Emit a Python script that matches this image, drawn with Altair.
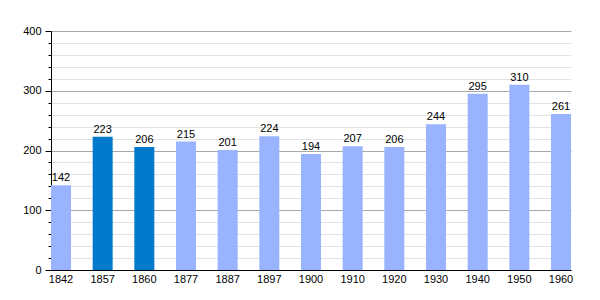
import altair as alt
import pandas as pd

years = ["1842", "1857", "1860", "1877", "1887", "1897", "1900", "1910", "1920", "1930", "1940", "1950", "1960"]
values = [142, 223, 206, 215, 201, 224, 194, 207, 206, 244, 295, 310, 261]
groups = ["a", "b", "b", "a", "a", "a", "a", "a", "a", "a", "a", "a", "a"]

df = pd.DataFrame({"year": years, "value": values, "grp": groups})

x = alt.X("year:N", sort=None, title=None,
          scale=alt.Scale(paddingInner=0.52, paddingOuter=0),
          axis=alt.Axis(labelAngle=0, ticks=False, domainColor="#000000", labelColor="#000000",
                        labelFontSize=11, labelFont="Liberation Sans", labelPadding=3, grid=False))
y = alt.Y("value:Q", title=None,
          scale=alt.Scale(domain=[0, 400], nice=False),
          axis=alt.Axis(values=list(range(0, 401, 20)), tickCount=50,
                        labelOverlap=False,
                        labelExpr="datum.value % 100 == 0 ? datum.label : ''",
                        gridColor={"condition": {"test": "datum.value % 100 == 0", "value": "#a8a8a8"}, "value": "#e2e2e2"},
                        tickSize={"condition": {"test": "datum.value % 100 == 0", "value": 6}, "value": 3},
                        tickColor="#000000", domainColor="#000000", labelColor="#000000",
                        labelFontSize=11, labelFont="Liberation Sans", labelPadding=4))

bars = alt.Chart(df).mark_bar().encode(
    x=x, y=y,
    color=alt.Color("grp:N", scale=alt.Scale(domain=["a", "b"], range=["#99b3ff", "#007acc"]), legend=None),
)
labels = alt.Chart(df).mark_text(dy=-7, fontSize=11, font="Liberation Sans", color="#000000").encode(
    x=alt.X("year:N", sort=None), y=alt.Y("value:Q"), text="value:Q")

chart = (bars + labels).properties(
    width=520, height=239,
    autosize=alt.AutoSizeParams(type="none"),
    padding={"left": 51, "top": 31, "right": 29, "bottom": 30},
).configure_view(stroke=None).configure_axis(domainWidth=1)

chart.save("out.html", embed_options={"renderer": "svg", "actions": False})
